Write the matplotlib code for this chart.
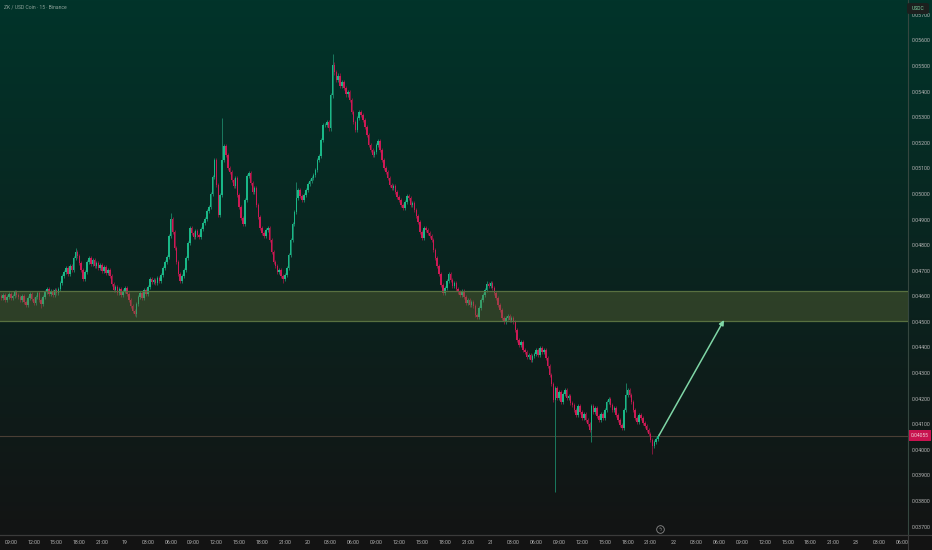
import matplotlib
matplotlib.use("Agg")
import matplotlib.pyplot as plt
import numpy as np
from matplotlib.patches import FancyBboxPatch

plt.rcParams['font.family'] = ['Roboto', 'DejaVu Sans']

# ---------------- data ----------------
title = "ZK / USD Coin · 15 · Binance"
quote = "USDC"

first_candle_hour = 7.75      # 18th 07:45, hours counted from 18th 00:00
candle_hours = 0.25           # 15-minute candles
open0 = 4600                  # prices in units of 0.00001 USDC

closes_d18 = [4594, 4605, 4586, 4597, 4609, 4594, 4601, 4617, 4605, 4597,
              4586, 4601, 4578, 4566, 4594, 4609, 4590, 4574, 4597, 4613,
              4586, 4570, 4597, 4617, 4629, 4609, 4621, 4605, 4625, 4613,
              4629, 4652, 4679, 4695, 4710, 4687, 4718, 4703, 4750, 4773,
              4757, 4730, 4703, 4668, 4695, 4734, 4750, 4726, 4742, 4718,
              4730, 4710, 4722, 4699, 4714, 4691, 4703, 4679, 4648, 4625,
              4637, 4613, 4629, 4605, 4621]
closes_d19 = [4632, 4609, 4586, 4562, 4543,
              4531, 4570, 4597, 4613, 4594, 4625, 4609, 4637, 4668, 4656,
              4664, 4652, 4671, 4660, 4683, 4710, 4734, 4753, 4835, 4902,
              4851, 4789, 4734, 4687, 4660, 4679, 4703, 4750, 4808, 4867,
              4847, 4831, 4855, 4839, 4831, 4863, 4886, 4902, 4933, 4949,
              4999, 5065, 5132, 5034, 4917, 4995, 5132, 5186, 5151, 5100,
              5085, 5054, 5030, 5061, 4995, 4949, 4906, 4882, 4976, 5069,
              5081, 5042, 5007, 5022, 4956, 4910, 4867, 4847, 4835, 4859,
              4867, 4820, 4773, 4734, 4718, 4695, 4703, 4679, 4668, 4683,
              4710, 4761, 4820, 4882, 4929, 4984, 5015, 4991, 4976, 4995,
              5015]
closes_d20 = [5038, 5050, 5061, 5073, 5093, 5132, 5147, 5210, 5268,
              5268, 5280, 5256, 5385, 5506, 5475, 5444, 5463, 5424, 5436,
              5413, 5389, 5397, 5366, 5319, 5280, 5249, 5296, 5319, 5307,
              5288, 5261, 5229, 5190, 5171, 5151, 5163, 5190, 5206, 5171,
              5132, 5100, 5085, 5061, 5034, 5022, 5030, 5007, 4987, 4976,
              4956, 4945, 4968, 4991, 4984, 4956, 4964, 4937, 4914, 4890,
              4851, 4828, 4867, 4859, 4847, 4835, 4820, 4781, 4750, 4718,
              4687, 4644, 4613, 4632, 4660, 4687, 4664, 4640, 4652, 4629,
              4617, 4605, 4621, 4597, 4574, 4586, 4566, 4578, 4562, 4527,
              4520, 4555, 4586, 4605, 4625, 4648, 4640]
closes_d21 = [4652, 4632, 4613,
              4594, 4566, 4547, 4516, 4500, 4516, 4523, 4508, 4516, 4500,
              4469, 4430, 4410, 4422, 4390, 4383, 4363, 4371, 4351, 4367,
              4375, 4390, 4371, 4398, 4383, 4390, 4359, 4328, 4293, 4258,
              4195, 4242, 4203, 4226, 4187, 4219, 4234, 4203, 4211, 4184,
              4176, 4156, 4137, 4172, 4148, 4125, 4141, 4117, 4102, 4078,
              4172, 4148, 4164, 4133, 4117, 4141, 4125, 4156, 4187, 4199,
              4176, 4156, 4164, 4137, 4117, 4098, 4086, 4156, 4215, 4234,
              4215, 4187, 4156, 4125, 4109, 4137, 4125, 4105, 4094, 4078,
              4062, 4039, 4016, 4031, 4043, 4055]

# notable wick extremes: candle index -> price (0.00001 units)
wick_highs = {39: 4789, 89: 4925, 116: 5296, 155: 5046, 174: 5549,
              255: 4660, 328: 4262}
wick_lows = {21: 4555, 71: 4520, 148: 4652, 291: 3833, 310: 4031, 342: 3985}

zone_low, zone_high = 0.04504, 0.04621
arrow_start = (94.1, 0.04055)
arrow_end = (102.66, 0.04507)
last_price_label = "0.04055"

price_ticks = [0.037, 0.038, 0.039, 0.040, 0.041, 0.042, 0.043, 0.044, 0.045,
               0.046, 0.047, 0.048, 0.049, 0.050, 0.051, 0.052, 0.053, 0.054,
               0.055, 0.056, 0.057]
day_names = ["18", "19", "20", "21", "22", "23"]

# ---------------- figure ----------------
W, H = 932, 550
fig = plt.figure(figsize=(W / 100, H / 100), dpi=100)

# background gradient
plot_bottom_px = 535
grad = np.zeros((H, 1, 3))
top = np.array([1, 52, 42]) / 255
bot = np.array([19, 20, 20]) / 255
for r in range(H):
    if r < plot_bottom_px:
        f = r / plot_bottom_px
        grad[r, 0] = top * (1 - f) + bot * f
    else:
        grad[r, 0] = np.array([19, 19, 19]) / 255
bg = fig.add_axes([0, 0, 1, 1])
bg.imshow(grad, aspect='auto', extent=[0, 1, 0, 1], origin='upper')
bg.set_axis_off()
bg.set_zorder(-10)

plot_right_px = 908
ax = fig.add_axes([0, (H - plot_bottom_px) / H, plot_right_px / W, plot_bottom_px / H])
ax.set_facecolor('none')

closes = np.array(closes_d18 + closes_d19 + closes_d20 + closes_d21) / 1e5
opens = np.concatenate([[open0 / 1e5], closes[:-1]])
t = first_candle_hour + candle_hours * np.arange(len(closes))
typ_wick = 0.00008
highs = np.maximum(opens, closes) + typ_wick
lows = np.minimum(opens, closes) - typ_wick
for k, v in wick_highs.items():
    highs[k] = v / 1e5
for k, v in wick_lows.items():
    lows[k] = v / 1e5

up = closes >= opens
up_col, dn_col = '#19b887', '#cc1a55'
ax.vlines(t[up], lows[up], highs[up], color='#1a7a5f', lw=0.7, zorder=2)
ax.vlines(t[~up], lows[~up], highs[~up], color='#801a3c', lw=0.7, zorder=2)
body = closes - opens
body = np.where(np.abs(body) < 0.00003, np.where(body >= 0, 0.00003, -0.00003), body)
ax.bar(t[up], body[up], bottom=opens[up], width=0.2, color=up_col, linewidth=0, zorder=3)
ax.bar(t[~up], body[~up], bottom=opens[~up], width=0.2, color=dn_col, linewidth=0, zorder=3)

# support/resistance zone
ax.axhspan(zone_low, zone_high, facecolor='#677238', alpha=0.38, lw=0, zorder=4)
ax.axhline(zone_low, color='#587040', lw=0.9, zorder=4)
ax.axhline(zone_high, color='#587040', lw=0.9, zorder=4)

# last price line
ax.axhline(closes[-1], color='#4a3f35', lw=0.8, zorder=1)

# projection arrow
ax.annotate('', xy=arrow_end, xytext=arrow_start,
            arrowprops=dict(arrowstyle='-|>', color='#7fd6a6', lw=1.1,
                            mutation_scale=7, shrinkA=0, shrinkB=0), zorder=6)

# event marker
ax.plot([94.3], [0.03690], marker='o', ms=5.5, mfc='none', mec='#8a8a8a', mew=0.6,
        zorder=6, clip_on=False)
ax.text(94.3, 0.03690, 'ϟ', fontsize=3.5, color='#9a9a9a', ha='center', va='center',
        zorder=7, family=['DejaVu Sans'])

ax.set_xlim(7.584, 126.82)
ax.set_ylim(0.036668, 0.057583)

# axes
for s in ['top', 'left']:
    ax.spines[s].set_visible(False)
ax.spines['right'].set_color('#35463f')
ax.spines['right'].set_linewidth(0.8)
ax.spines['bottom'].set_color('#3b3b3b')
ax.spines['bottom'].set_linewidth(0.8)

ax.yaxis.tick_right()
ax.set_yticks(price_ticks)
ax.set_yticklabels([f"{p:.5f}" for p in price_ticks])
ax.tick_params(axis='y', length=0, pad=3, labelsize=3.8, colors='#b4b4b4')

xt, xl = [], []
for h in range(9, 127, 3):
    xt.append(h)
    if h % 24 == 0:
        xl.append(day_names[h // 24])
    else:
        xl.append(f"{h % 24:02d}:00")
ax.set_xticks(xt)
ax.set_xticklabels(xl)
ax.tick_params(axis='x', length=0, pad=3.5, labelsize=3.8, colors='#b4b4b4')

# full-width separator under plot
fig.add_artist(plt.Line2D([0, 1], [(H - plot_bottom_px) / H] * 2, color='#3b3b3b', lw=0.8))
fig.add_artist(plt.Line2D([plot_right_px / W] * 2, [0, (H - plot_bottom_px) / H],
                          color='#3b3b3b', lw=0.8))

# title
fig.text(4 / W, 1 - 7 / H, title, fontsize=3.6, color='#8fa39b', va='center', ha='left')

# quote currency box
fig.add_artist(FancyBboxPatch((907 / W, 1 - 14 / H), 22 / W, 11 / H,
                              boxstyle='round,pad=0,rounding_size=0.003',
                              transform=fig.transFigure, fc='#1c1f1e', ec='none'))
fig.text(918 / W, 1 - 8.5 / H, quote, fontsize=3.6, color='#7fd6a6', ha='center', va='center')

# last price label
ly = ax.transData.transform((0, closes[-1]))[1] / H
fig.add_artist(FancyBboxPatch((909 / W, ly - 5.5 / H), 22 / W, 11 / H,
                              boxstyle='square,pad=0', transform=fig.transFigure,
                              fc='#c8134f', ec='none'))
fig.text(920 / W, ly, last_price_label, fontsize=3.6, color='#f0d0d8', ha='center', va='center')

fig.savefig('out.png', dpi=100)
